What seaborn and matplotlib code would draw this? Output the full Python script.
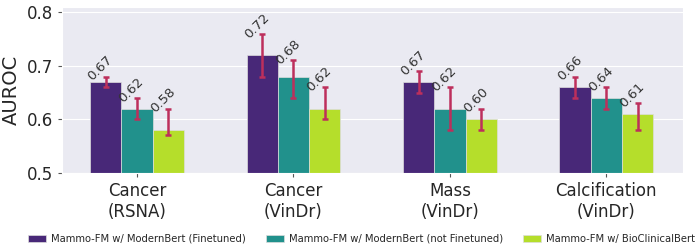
import numpy as np
import pandas as pd
import matplotlib
matplotlib.use("Agg")
import matplotlib.pyplot as plt
import seaborn as sns

# data
tasks = ["Cancer\n(RSNA)", "Cancer\n(VinDr)", "Mass\n(VinDr)", "Calcification\n(VinDr)"]
models = ["Mammo-FM w/ ModernBert (Finetuned)",
          "Mammo-FM w/ ModernBert (not Finetuned)",
          "Mammo-FM w/ BioClinicalBert"]
auroc = [[0.67, 0.72, 0.67, 0.66],
         [0.62, 0.68, 0.62, 0.64],
         [0.58, 0.62, 0.60, 0.61]]
lower = [[0.66, 0.68, 0.65, 0.64],
         [0.60, 0.64, 0.58, 0.62],
         [0.57, 0.60, 0.58, 0.58]]
upper = [[0.68, 0.76, 0.69, 0.68],
         [0.64, 0.71, 0.66, 0.66],
         [0.62, 0.66, 0.62, 0.63]]
colors = ["#482878", "#21918c", "#b5de2b"]

rows = []
for m, model in enumerate(models):
    for t, task in enumerate(tasks):
        rows.append({"task": task, "model": model, "auroc": auroc[m][t]})
df = pd.DataFrame(rows)

sns.set_style("darkgrid", {"xtick.bottom": True, "ytick.left": True})
plt.rcParams['font.family'] = ['DejaVu Sans']

fig = plt.figure(figsize=(6.98, 2.48), dpi=100)
ax = fig.add_axes([0.0888, 0.3036, 0.8897, 0.668])

sns.barplot(data=df, x="task", y="auroc", hue="model", hue_order=models,
            order=tasks, palette=colors, width=0.6, errorbar=None, ax=ax,
            saturation=1, edgecolor="#dddddd", linewidth=0.5)

# error bars + value labels
bar_conts = list(ax.containers)
for m, cont in enumerate(bar_conts):
    for t, bar in enumerate(cont):
        cx = bar.get_x() + bar.get_width() / 2
        val = auroc[m][t]
        yerr = [[val - lower[m][t]], [upper[m][t] - val]]
        ax.errorbar(cx, val, yerr=yerr, fmt="none", ecolor="#bd2f5c",
                    elinewidth=1.8, capsize=2, capthick=1.8, zorder=5)
        ax.annotate(f"{val:.2f}", (cx, upper[m][t]), xytext=(-4, -5),
                    textcoords="offset points", ha="center", va="bottom",
                    rotation=45, fontsize=9.5, color="#333333")

ax.set_ylim(0.5, 0.81)
ax.set_yticks([0.5, 0.6, 0.7, 0.8])
ax.set_xlim(-0.48, 3.49)
ax.set_xlabel("")
ax.set_ylabel("AUROC", fontsize=14)
ax.tick_params(axis="both", labelsize=12, length=3, color="#555555")

handles, labels = ax.get_legend_handles_labels()
ax.get_legend().remove()
fig.legend(handles[:3], labels[:3], loc="lower center", ncol=3, frameon=False,
           fontsize=7.2, bbox_to_anchor=(0.518, -0.02), columnspacing=2.0,
           handlelength=1.8, handleheight=0.7, handletextpad=0.5)

fig.savefig("out.png", dpi=100)
